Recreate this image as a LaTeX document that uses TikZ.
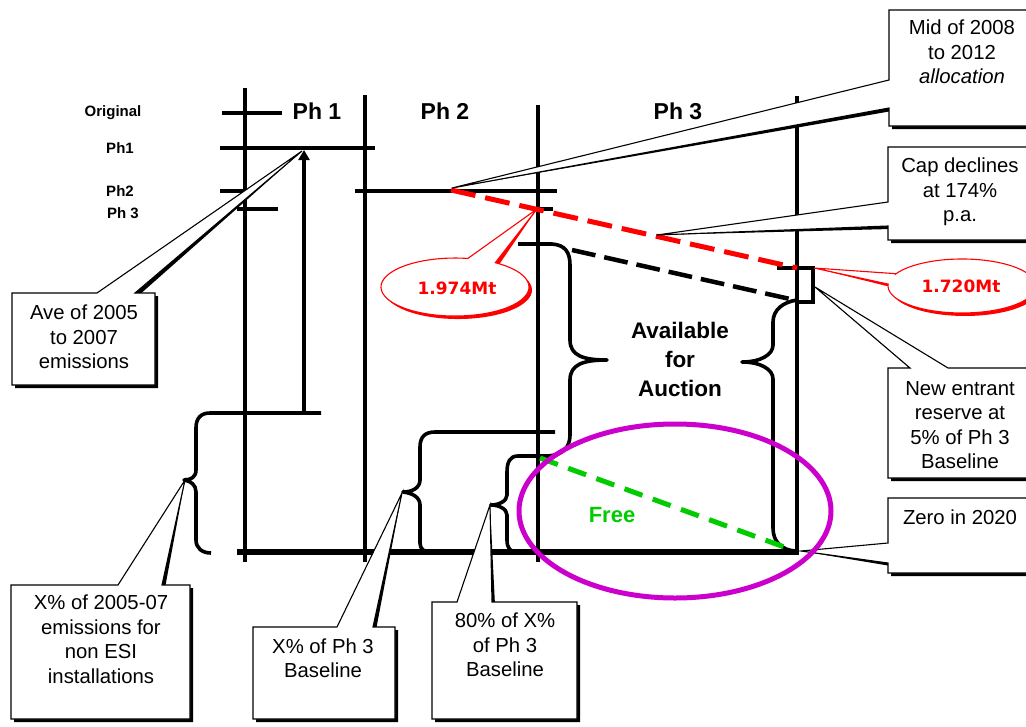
\documentclass[tikz,border=0pt]{standalone}
\usepackage{fontspec}
\setmainfont{Liberation Sans}
\newfontfamily\mtfont{DejaVu Sans}
\usetikzlibrary{arrows.meta}
\definecolor{ringmag}{RGB}{204,0,204}
\definecolor{freegreen}{RGB}{0,204,0}
\definecolor{mtred}{RGB}{255,0,0}
\newcommand\shadowcallout[2][black]{%
  \fill[#1, shift={(3,3)}] #2;
  \filldraw[fill=white, draw=#1, line width=1.1pt] #2;}
\begin{document}
\begin{tikzpicture}[x=1pt,y=-1pt,
  vline/.style={line width=4.5pt},
  tickline/.style={line width=4pt},
  axisline/.style={line width=6pt},
  bracepath/.style={line width=3.6pt, line join=round},
  ctext/.style={font=\fontsize{20.3}{24.5}\selectfont, align=center, inner sep=0pt},
  lab/.style={font=\bfseries\fontsize{15}{15}\selectfont, inner sep=0pt},
  head/.style={font=\bfseries\fontsize{23}{23}\selectfont, inner sep=0pt},
  mttext/.style={font=\mtfont\bfseries\fontsize{17}{17}\selectfont, text=mtred, inner sep=0pt},
]
\useasboundingbox (0,0) rectangle (1026,726);
\clip (0,0) rectangle (1026,726);
\fill[white] (0,0) rectangle (1026,726);

% ---- phase grid
\draw[vline] (245,88) -- (245,562);
\draw[vline] (365,95) -- (365,562);
\draw[vline] (538,105) -- (538,562);
\draw[vline] (797,96) -- (797,552);
\draw[tickline] (222,113) -- (282,113);
\draw[tickline] (220,148) -- (375,148);
\draw[tickline] (220,191) -- (245,191);
\draw[tickline] (355,191) -- (557,191);
\draw[tickline] (237,209) -- (278,209);
\draw[tickline] (538,209) -- (553,209);
\draw[axisline] (237,552) -- (799,552);
\draw[line width=3.6pt] (777,268) -- (813,268) -- (813,302) -- (797,302);

% ---- Ph1 arrow
\coordinate (arrBase) at (304,413);
\coordinate (arrTip) at (304,150);
\draw[line width=4pt, -{Triangle[width=11pt,length=10pt]}] (arrBase) -- (arrTip);

% ---- braces
\draw[bracepath] (321,413) -- (210,413) .. controls (201,413) and (196,418) .. (196,428)
  -- (196,470) .. controls (196,477) and (191,480) .. (184,480)
  .. controls (191,481) and (196,485) .. (196,492) -- (196,540)
  .. controls (196,548) and (202,553) .. (211,553);
\draw[bracepath] (555,432) -- (435,432) .. controls (425,432) and (420,437) .. (420,447)
  -- (420,480) .. controls (420,488) and (412,492) .. (403,492)
  .. controls (412,493) and (420,497) .. (420,505) -- (420,543)
  .. controls (420,549) and (424,552) .. (430,552);
\draw[bracepath] (518,244) -- (552,244) .. controls (565,245) and (570,252) .. (570,265)
  -- (570,340) .. controls (570,356) and (584,360) .. (607,360)
  .. controls (584,360) and (570,364) .. (570,380) -- (570,435)
  .. controls (570,448) and (562,455) .. (548,456) -- (518,456)
  .. controls (510,456) and (507,462) .. (507,472) -- (507,495)
  .. controls (507,501) and (499,505) .. (491,505)
  .. controls (499,505) and (507,509) .. (507,515) -- (507,540)
  .. controls (507,548) and (510,552) .. (517,552);
\draw[bracepath] (797,300) .. controls (783,302) and (773,310) .. (773,322)
  -- (773,345) .. controls (773,355) and (760,362) .. (742,362)
  .. controls (760,362) and (773,369) .. (773,379) -- (773,528)
  .. controls (773,542) and (782,550) .. (795,551);

% ---- dashed trend lines
\coordinate (redStart) at (451,190);
\coordinate (redEnd) at (797,268);
\draw[mtred, line width=5pt, dash pattern=on 25pt off 10pt] (redStart) -- (redEnd);
\coordinate (blkStart) at (572,250);
\coordinate (blkEnd) at (790,299);
\draw[line width=4.5pt, dash pattern=on 24pt off 9pt] (blkStart) -- (blkEnd);
\coordinate (grnStart) at (540,458);
\coordinate (grnEnd) at (787,548);
\draw[freegreen, line width=5pt, dash pattern=on 19pt off 11pt] (grnStart) -- (grnEnd);

% ---- callouts (with drop shadow)
\coordinate (tipMid) at (452,188);
\coordinate (tipCap) at (657,235);
\coordinate (tipAve) at (302,151);
\coordinate (tipA) at (185,480);
\coordinate (tipB) at (402,493);
\coordinate (tipC) at (490,505);
\coordinate (tipNew) at (815,287);
\coordinate (tipZero) at (801,551);

\shadowcallout{(889,10) -- (1040,10) -- (1040,126) -- (889,126) -- (889,108) -- (tipMid) -- (889,80) -- cycle}
\node[ctext] (tMid) at (962,52) {Mid of 2008\\to 2012\\\textit{allocation}};

\shadowcallout{(888,147) -- (1040,147) -- (1040,240) -- (888,240) -- (888,226) -- (tipCap) -- (888,202) -- cycle}
\node[ctext] (tCap) at (960,192) {Cap declines\\at 174\%\\p.a.};

\shadowcallout{(12,293) -- (97,293) -- (tipAve) -- (135,293) -- (155,293) -- (155,385) -- (12,385) -- cycle}
\node[ctext] (tAve) at (84,337) {Ave of 2005\\to 2007\\emissions};

\shadowcallout{(11,585) -- (118,585) -- (tipA) -- (162,585) -- (190,585) -- (190,719) -- (11,719) -- cycle}
\node[ctext] (tA) at (101,639) {X\% of 2005-07\\emissions for\\non ESI\\installations};

\shadowcallout{(253,627) -- (337,627) -- (tipB) -- (373,627) -- (395,627) -- (395,719) -- (253,719) -- cycle}
\node[ctext] (tB) at (323,658) {X\% of Ph 3\\Baseline};

\shadowcallout{(432,602) -- (457,602) -- (tipC) -- (492,602) -- (577,602) -- (577,719) -- (432,719) -- cycle}
\node[ctext] (tC) at (505,645) {80\% of X\%\\of Ph 3\\Baseline};

\shadowcallout{(888,368) -- (910,368) -- (tipNew) -- (948,368) -- (1040,368) -- (1040,478) -- (888,478) -- cycle}
\node[ctext] (tNew) at (960,425) {New entrant\\reserve at\\5\% of Ph 3\\Baseline};

\shadowcallout{(888,498) -- (1040,498) -- (1040,573) -- (888,573) -- (888,563) -- (tipZero) -- (888,543) -- cycle}
\node[ctext] (tZero) at (960,517) {Zero in 2020};

% ---- red ellipse callouts
\coordinate (tipR1) at (537,209);
\coordinate (tipR2) at (814,268);
\shadowcallout[mtred]{(467.85,258.44) -- (tipR1) -- (495.3,262.7) arc[start angle=-57, end angle=280, x radius=74, y radius=29] -- cycle}
\node[mttext] (mt1) at (457,288) {1.974Mt};
\shadowcallout[mtred]{(896.1,273.7) -- (tipR2) -- (888.2,284.1) arc[start angle=-176, end angle=-513, x radius=74, y radius=27] -- cycle}
\node[mttext] (mt2) at (961,286) {1.720Mt};

% ---- labels
\node[lab] (lOrig) at (113,113) {Original};
\node[lab] (lPh1) at (120,148) {Ph1};
\node[lab] (lPh2) at (120,191) {Ph2};
\node[lab] (lPh3) at (123,213) {Ph 3};
\node[head] (hPh1) at (317,111) {Ph 1};
\node[head] (hPh2) at (445,111) {Ph 2};
\node[head] (hPh3) at (678,111) {Ph 3};
\node[font=\bfseries\fontsize{22.5}{29}\selectfont, align=center, inner sep=0pt] (avail) at (680,359) {Available\\for\\Auction};
\node[font=\bfseries\fontsize{22}{22}\selectfont, text=freegreen, inner sep=0pt] (free) at (612,515) {Free};

% ---- magenta ring
\draw[ringmag, line width=5pt] (675,511) ellipse[x radius=156, y radius=87];
\end{tikzpicture}
\end{document}
